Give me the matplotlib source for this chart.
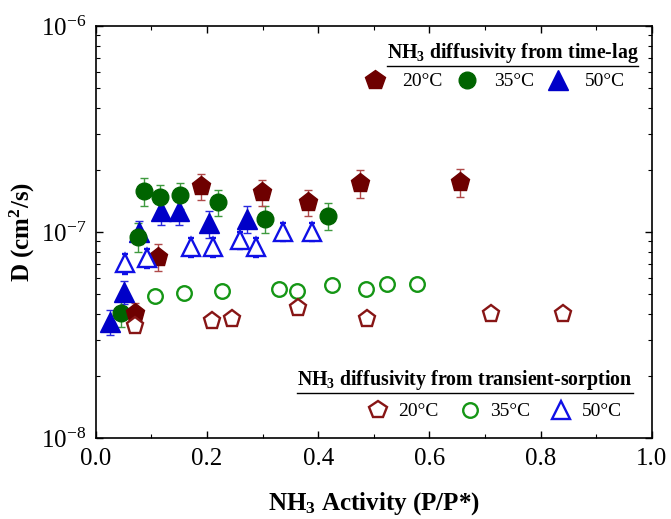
import numpy as np
import matplotlib
matplotlib.use('Agg')
import matplotlib.pyplot as plt
from matplotlib.lines import Line2D
from matplotlib.ticker import MultipleLocator, FormatStrFormatter

# ── fonts ──
plt.rcParams['font.family'] = ['Liberation Serif', 'DejaVu Serif']
plt.rcParams['mathtext.fontset'] = 'custom'
plt.rcParams['mathtext.rm'] = 'Liberation Serif'
plt.rcParams['mathtext.bf'] = 'Liberation Serif:bold'
plt.rcParams['mathtext.it'] = 'Liberation Serif:italic'
plt.rcParams['axes.unicode_minus'] = False

# ── data: time-lag (filled markers) ──
act_tl_20 = [0.070, 0.111, 0.190, 0.298, 0.381, 0.475, 0.655]
D_tl_20 = [4.03e-8, 7.6e-8, 1.67e-7, 1.56e-7, 1.40e-7, 1.73e-7, 1.75e-7]
err_tl_20 = [0.5e-8, 1.1e-8, 2.4e-8, 2.2e-8, 2.0e-8, 2.6e-8, 2.7e-8]

act_tl_35 = [0.045, 0.075, 0.087, 0.116, 0.151, 0.220, 0.304, 0.418]
D_tl_35 = [4.06e-8, 9.5e-8, 1.58e-7, 1.48e-7, 1.51e-7, 1.40e-7, 1.16e-7, 1.20e-7]
err_tl_35 = [0.6e-8, 1.5e-8, 2.4e-8, 2.2e-8, 2.1e-8, 2.0e-8, 1.7e-8, 1.8e-8]

act_tl_50 = [0.025, 0.050, 0.077, 0.117, 0.150, 0.204, 0.272]
D_tl_50 = [3.67e-8, 5.13e-8, 1.00e-7, 1.26e-7, 1.26e-7, 1.10e-7, 1.16e-7]
err_tl_50 = [0.5e-8, 0.65e-8, 1.3e-8, 1.8e-8, 1.8e-8, 1.6e-8, 1.7e-8]

# ── data: transient sorption (open markers) ──
act_ts_20 = [0.0705, 0.2095, 0.2445, 0.364, 0.487, 0.710, 0.841]
D_ts_20 = [3.50e-8, 3.70e-8, 3.77e-8, 4.26e-8, 3.77e-8, 4.0e-8, 4.0e-8]
err_ts_20 = [0.2e-8, 0.2e-8, 0.2e-8, 0.25e-8, 0.2e-8, 0.2e-8, 0.2e-8]

act_ts_35 = [0.1065, 0.159, 0.2275, 0.3295, 0.3625, 0.424, 0.486, 0.524, 0.578]
D_ts_35 = [4.89e-8, 5.07e-8, 5.17e-8, 5.27e-8, 5.17e-8, 5.53e-8, 5.29e-8, 5.6e-8, 5.6e-8]
err_ts_35 = [0.3e-8, 0.3e-8, 0.3e-8, 0.3e-8, 0.3e-8, 0.3e-8, 0.3e-8, 0.3e-8, 0.3e-8]

act_ts_50 = [0.0525, 0.0915, 0.172, 0.211, 0.259, 0.288, 0.337, 0.388]
D_ts_50 = [7.05e-8, 7.45e-8, 8.49e-8, 8.49e-8, 9.14e-8, 8.49e-8, 1.00e-7, 1.00e-7]
err_ts_50 = [0.8e-8, 0.8e-8, 0.9e-8, 0.9e-8, 0.9e-8, 0.9e-8, 1.0e-8, 1.0e-8]

temps = ['20°C', '35°C', '50°C']

# ── colours ──
c_fill = {'20': '#6e0000', '35': '#006400', '50': '#0000c8'}
c_open = {'20': '#871515', '35': '#159615', '50': '#1010e6'}
c_err = {'20': '#b04a4a', '35': '#3f9a3f', '50': '#2a2ae0'}

fig = plt.figure(figsize=(6.71, 5.19), dpi=100)
ax = fig.add_axes([0.1428, 0.1561, 0.8286, 0.7938])

# filled (time-lag)
filled = [
    ('50', act_tl_50, D_tl_50, err_tl_50, '^', 14.5),
    ('35', act_tl_35, D_tl_35, err_tl_35, 'o', 12),
    ('20', act_tl_20, D_tl_20, err_tl_20, 'p', 14.2),
]
for key, x, y, e, m, ms in filled:
    ax.errorbar(x, y, yerr=e, fmt=m, ms=ms, color=c_fill[key], mec=c_fill[key],
                ecolor=c_err[key], elinewidth=1.0, capsize=3, capthick=1.0, zorder=3)

# open (transient sorption)
opened = [
    ('50', act_ts_50, D_ts_50, err_ts_50, '^', 13),
    ('35', act_ts_35, D_ts_35, err_ts_35, 'o', 10.5),
    ('20', act_ts_20, D_ts_20, err_ts_20, 'p', 12.5),
]
for key, x, y, e, m, ms in opened:
    ax.errorbar(x, y, yerr=e, fmt=m, ms=ms, mfc='white', mec=c_open[key], mew=1.7,
                ecolor=c_open[key], elinewidth=0.8, capsize=2.5, capthick=0.8, zorder=4)

# ── axes ──
ax.set_yscale('log')
ax.set_xlim(0, 1.0)
ax.set_ylim(1e-8, 1e-6)
ax.xaxis.set_major_locator(MultipleLocator(0.2))
ax.xaxis.set_minor_locator(MultipleLocator(0.1))
ax.xaxis.set_major_formatter(FormatStrFormatter('%.1f'))
ax.tick_params(which='both', direction='in', top=True, right=True, labelsize=18)
ax.tick_params(which='major', length=5, width=1.0, pad=7)
ax.tick_params(which='minor', length=3, width=0.8)
for sp in ax.spines.values():
    sp.set_linewidth(1.2)

ax.set_xlabel(r'NH$_{\mathbf{3}}$ Activity (P/P*)', fontsize=18, fontweight='bold')
ax.set_ylabel(r'D (cm$^{\mathbf{2}}$/s)', fontsize=18, fontweight='bold')
ax.xaxis.set_label_coords(0.5, -0.126)
ax.yaxis.set_label_coords(-0.105, 0.5)

# ── legends ──
fs_leg = 14
fs_title = 14.3
h_top = [Line2D([], [], ls='none', marker='p', ms=14.5, color=c_fill['20']),
         Line2D([], [], ls='none', marker='o', ms=12, color=c_fill['35']),
         Line2D([], [], ls='none', marker='^', ms=14, color=c_fill['50'])]
leg1 = ax.legend(h_top, temps, ncol=3, frameon=False, fontsize=fs_leg,
                 loc='center right', bbox_to_anchor=(0.970, 0.865),
                 borderpad=0, handlelength=1.0, handletextpad=0.89,
                 columnspacing=0.75)
ax.add_artist(leg1)

h_bot = [Line2D([], [], ls='none', marker='p', ms=13, mfc='white', mec=c_open['20'], mew=1.7),
         Line2D([], [], ls='none', marker='o', ms=10.5, mfc='white', mec=c_open['35'], mew=1.7),
         Line2D([], [], ls='none', marker='^', ms=13, mfc='white', mec=c_open['50'], mew=1.7)]
leg2 = ax.legend(h_bot, temps, ncol=3, frameon=False, fontsize=fs_leg,
                 loc='center right', bbox_to_anchor=(0.963, 0.064),
                 borderpad=0, handlelength=1.0, handletextpad=0.55,
                 columnspacing=1.08)

t1 = ax.text(0.976, 0.9216, r'$\mathbf{NH_3}$ diffusivity from time-lag',
             transform=ax.transAxes, ha='right', va='baseline',
             fontsize=fs_title, fontweight='bold')
t2 = ax.text(0.966, 0.1286, r'$\mathbf{NH_3}$ diffusivity from transient-sorption',
             transform=ax.transAxes, ha='right', va='baseline',
             fontsize=fs_title, fontweight='bold')

# underline the two legend titles
renderer = fig.canvas.get_renderer()
W, H = fig.bbox.width, fig.bbox.height
for t in (t1, t2):
    bb = t.get_window_extent(renderer)
    yline = (bb.y0 - 0.5) / H
    fig.add_artist(Line2D([bb.x0 / W, bb.x1 / W], [yline, yline],
                          transform=fig.transFigure, color='black', lw=1.0))

fig.savefig('out.png', dpi=100, facecolor='white')
plt.close(fig)
